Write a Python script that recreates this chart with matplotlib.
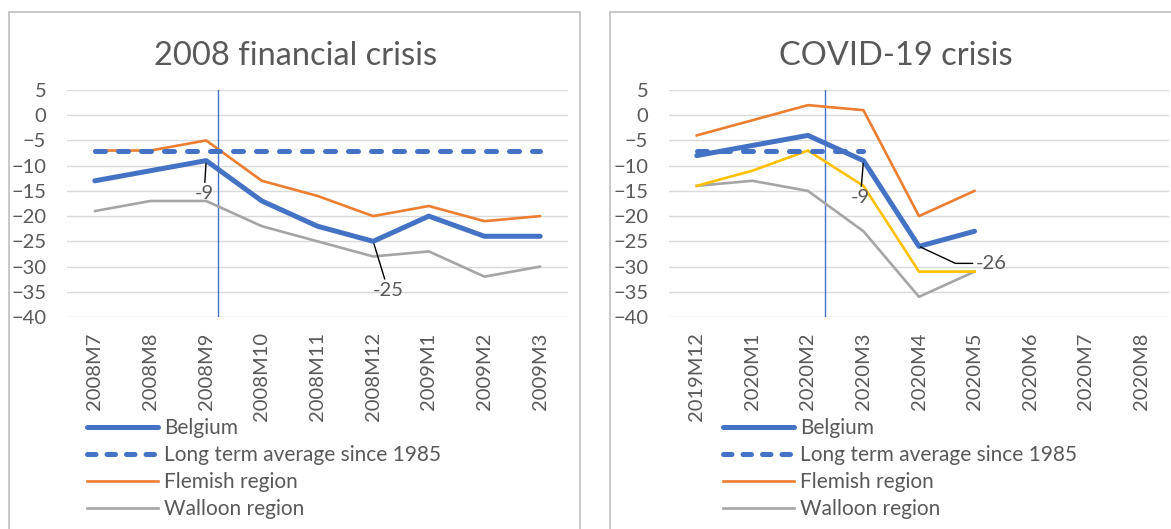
import matplotlib
matplotlib.use("Agg")
import matplotlib.pyplot as plt
from matplotlib.patches import Rectangle
from matplotlib.lines import Line2D

plt.rcParams['font.family'] = ['Lato', 'DejaVu Sans']

# ---- data ----
months_2008 = ["2008M7", "2008M8", "2008M9", "2008M10", "2008M11", "2008M12",
               "2009M1", "2009M2", "2009M3"]
belgium_2008 = [-13, -11, -9, -17, -22, -25, -20, -24, -24]
longterm_2008 = [-7, -7, -7, -7, -7, -7, -7, -7, -7]
flemish_2008 = [-7, -7, -5, -13, -16, -20, -18, -21, -20]
walloon_2008 = [-19, -17, -17, -22, -25, -28, -27, -32, -30]
crisis_marker_2008 = 2.22

months_covid = ["2019M12", "2020M1", "2020M2", "2020M3", "2020M4", "2020M5",
                "2020M6", "2020M7", "2020M8"]
belgium_covid = [-8, -6, -4, -9, -26, -23]
longterm_covid = [-7, -7, -7, -7]
flemish_covid = [-4, -1, 2, 1, -20, -15]
brussels_covid = [-14, -11, -7, -14, -31, -31]
walloon_covid = [-14, -13, -15, -23, -36, -31]
crisis_marker_covid = 2.31

yticks = [5, 0, -5, -10, -15, -20, -25, -30, -35, -40]
legend_labels = ["Belgium", "Long term average since 1985", "Flemish region", "Walloon region"]

BLUE = "#4472C4"
ORANGE = "#ED7D31"
GREY = "#A5A5A5"
YELLOW = "#FFC000"
TXT = "#595959"

TICK_FS = 14.5
LEG_FS = 15
TITLE_FS = 23.5

W, H = 1171, 529
fig = plt.figure(figsize=(W / 100, H / 100), dpi=100)


def fx(px):
    return px / W


def fy(py):
    return 1 - py / H


# panel borders
fig.patches.append(Rectangle((fx(9), fy(560)), fx(571), fy(12) - fy(560),
                             transform=fig.transFigure, fill=False,
                             edgecolor="#BFBFBF", lw=1.2))
fig.patches.append(Rectangle((fx(610), fy(560)), fx(600), fy(12) - fy(560),
                             transform=fig.transFigure, fill=False,
                             edgecolor="#BFBFBF", lw=1.2))


def make_axes(left_px, right_px, title, title_x):
    ax = fig.add_axes([fx(left_px), fy(317), fx(right_px - left_px), fy(90) - fy(317)])
    ax.set_ylim(-40, 5)
    ax.set_xlim(-0.5, 8.5)
    ax.set_yticks(yticks)
    ax.set_xticks(range(9))
    ax.tick_params(axis='both', length=0, labelsize=TICK_FS, labelcolor=TXT)
    ax.tick_params(axis='y', pad=15)
    ax.tick_params(axis='x', pad=11, rotation=90)
    ax.grid(axis='y', color="#D9D9D9", lw=1)
    ax.set_axisbelow(True)
    for s in ax.spines.values():
        s.set_visible(False)
    fig.text(fx(title_x), fy(56), title, ha='center', va='center',
             fontsize=TITLE_FS, color=TXT)
    return ax


dash = (2.0, 2.6)

# ---- left panel ----
ax1 = make_axes(67, 568, "2008 financial crisis", 296)
ax1.set_xticklabels(months_2008)
x1 = list(range(len(months_2008)))
ax1.axvline(crisis_marker_2008, color=BLUE, lw=1)
ax1.plot(x1, walloon_2008, color=GREY, lw=1.9, solid_capstyle='round')
ax1.plot(x1, flemish_2008, color=ORANGE, lw=1.9, solid_capstyle='round')
ax1.plot(x1, longterm_2008, color=BLUE, lw=3.6, dashes=dash, dash_capstyle='round')
ax1.plot(x1, belgium_2008, color=BLUE, lw=3.6, solid_capstyle='round',
         solid_joinstyle='round')

arrow = dict(arrowstyle='-', color='black', lw=1, shrinkA=0, shrinkB=2)
ax1.annotate(str(belgium_2008[2]), xy=(2, belgium_2008[2]), xytext=(-2, -33),
             textcoords='offset pixels', ha='center', va='center', fontsize=TICK_FS,
             color=TXT, arrowprops=arrow)
ax1.annotate(str(belgium_2008[5]), xy=(5, belgium_2008[5]), xytext=(15, -49),
             textcoords='offset pixels', ha='center', va='center', fontsize=TICK_FS,
             color=TXT, arrowprops=arrow)

# ---- right panel ----
ax2 = make_axes(669, 1169, "COVID-19 crisis", 896)
ax2.set_xticklabels(months_covid)
ax2.axvline(crisis_marker_covid, color=BLUE, lw=1)
ax2.plot(range(len(walloon_covid)), walloon_covid, color=GREY, lw=1.9)
ax2.plot(range(len(brussels_covid)), brussels_covid, color=YELLOW, lw=1.9)
ax2.plot(range(len(flemish_covid)), flemish_covid, color=ORANGE, lw=1.9)
ax2.plot(range(len(longterm_covid)), longterm_covid, color=BLUE, lw=3.6,
         dashes=dash, dash_capstyle='round')
ax2.plot(range(len(belgium_covid)), belgium_covid, color=BLUE, lw=3.6,
         solid_capstyle='round', solid_joinstyle='round')
ax2.annotate(str(belgium_covid[3]), xy=(3, belgium_covid[3]), xytext=(-3, -37),
             textcoords='offset pixels', ha='center', va='center', fontsize=TICK_FS,
             color=TXT, arrowprops=arrow)
ax2.annotate(str(belgium_covid[4]), xy=(4, belgium_covid[4]), xytext=(72, -17),
             textcoords='offset pixels', ha='center', va='center', fontsize=TICK_FS,
             color=TXT,
             arrowprops=dict(arrowstyle='-', color='black', lw=1, shrinkA=0, shrinkB=1,
                             connectionstyle="angle,angleA=0,angleB=-25,rad=0"))

# ---- legends ----
handles = [Line2D([], [], color=BLUE, lw=3.6, solid_capstyle='round'),
           Line2D([], [], color=BLUE, lw=3.6, dashes=(1.7, 2.2), dash_capstyle='round'),
           Line2D([], [], color=ORANGE, lw=1.9),
           Line2D([], [], color=GREY, lw=1.9)]
for xpx in (87, 723):
    fig.legend(handles, legend_labels, loc='upper left',
               bbox_to_anchor=(fx(xpx), fy(418)), frameon=False,
               fontsize=LEG_FS, labelcolor=TXT, handlelength=3.4, handletextpad=0.3,
               labelspacing=0.34, borderpad=0, borderaxespad=0)

fig.savefig("out.png", dpi=100)
